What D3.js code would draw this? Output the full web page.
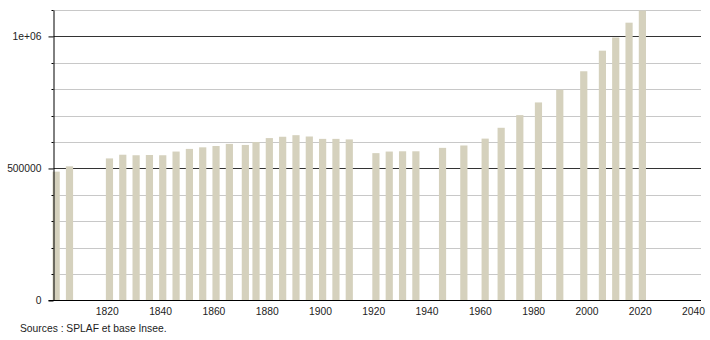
<!DOCTYPE html>
<html>
<head>
<meta charset="utf-8">
<script src="https://cdn.jsdelivr.net/npm/d3@7"></script>
<style>
  body { margin: 0; background: #fff; }
  svg text { font-family: "Liberation Sans", Arial, sans-serif; font-size: 10.3px; fill: #222; }
</style>
</head>
<body>
<svg id="chart" width="710" height="340"></svg>
<script>
// census years and population
const years = [1801, 1806, 1821, 1826, 1831, 1836, 1841, 1846, 1851, 1856, 1861, 1866,
  1872, 1876, 1881, 1886, 1891, 1896, 1901, 1906, 1911, 1921, 1926, 1931, 1936,
  1946, 1954, 1962, 1968, 1975, 1982, 1990, 1999, 2006, 2011, 2016, 2021];
const population = [488000, 508000, 538000, 552000, 550000, 551000, 550000, 564000,
  574000, 580000, 585000, 593000, 589000, 600000, 615000, 620000, 626000, 621000,
  612000, 612000, 610000, 558000, 564000, 565000, 565000, 578000, 587000, 613000,
  654000, 702000, 750000, 798000, 868000, 946000, 996000, 1052000, 1098000];
const xTicks = [1820, 1840, 1860, 1880, 1900, 1920, 1940, 1960, 1980, 2000, 2020, 2040];
const yLabels = [0, 500000, 1000000];
const yGrid = d3.range(100000, 1100001, 100000);

const data = years.map((y, i) => ({ year: y, pop: population[i] }));

const svg = d3.select("#chart");
const plotLeft = 53.5, plotRight = 701, plotTop = 10, plotBottom = 300.5;

const x = d3.scaleLinear().domain([1800, 2043]).range([plotLeft, plotRight]);
const y = d3.scaleLinear().domain([0, 1100000]).range([plotBottom, plotTop]);

// gridlines (major every 500000 dark, others light)
svg.append("g").selectAll("line")
  .data(yGrid)
  .join("line")
  .attr("x1", plotLeft)
  .attr("x2", plotRight)
  .attr("y1", d => Math.round(y(d)) + 0.5)
  .attr("y2", d => Math.round(y(d)) + 0.5)
  .attr("stroke", d => d % 500000 === 0 ? "#333" : "#c8c8c8")
  .attr("stroke-width", 1);

// bars
const halfW = 1.35;
svg.append("g").selectAll("rect")
  .data(data)
  .join("rect")
  .attr("x", d => x(d.year - halfW))
  .attr("width", d => x(d.year + halfW) - x(d.year - halfW))
  .attr("y", d => y(d.pop))
  .attr("height", d => plotBottom - y(d.pop))
  .attr("fill", "#d5d1bd");

// minor ticks on y axis
svg.append("g").selectAll("line")
  .data(yGrid.filter(d => d % 500000 !== 0))
  .join("line")
  .attr("x1", plotLeft - 2)
  .attr("x2", plotLeft)
  .attr("y1", d => Math.round(y(d)) + 0.5)
  .attr("y2", d => Math.round(y(d)) + 0.5)
  .attr("stroke", "#000");

// y axis
const yAxis = d3.axisLeft(y)
  .tickValues(yLabels)
  .tickSize(5)
  .tickPadding(7)
  .tickSizeOuter(0)
  .tickFormat(d => d === 1000000 ? "1e+06" : String(d));

const gy = svg.append("g").attr("transform", `translate(${plotLeft},0)`).call(yAxis);
gy.select(".domain").attr("stroke", "#000");
gy.selectAll(".tick line").attr("stroke", "#000");
gy.selectAll("text").attr("fill", "#222").style("font-size", "10.3px")
  .style("font-family", "'Liberation Sans', Arial, sans-serif");

// x axis
const xAxis = d3.axisBottom(x)
  .tickValues(xTicks)
  .tickSize(0)
  .tickPadding(7)
  .tickFormat(d3.format("d"));

const gx = svg.append("g").attr("transform", `translate(0,${plotBottom})`).call(xAxis);
gx.select(".domain").remove();
gx.append("line")
  .attr("x1", plotLeft - 5)
  .attr("x2", plotRight)
  .attr("stroke", "#000");
gx.selectAll("text").attr("fill", "#222").style("font-size", "10.3px")
  .style("font-family", "'Liberation Sans', Arial, sans-serif");

// source note
svg.append("text")
  .attr("x", 20)
  .attr("y", 332)
  .text("Sources : SPLAF et base Insee.");
</script>
</body>
</html>
